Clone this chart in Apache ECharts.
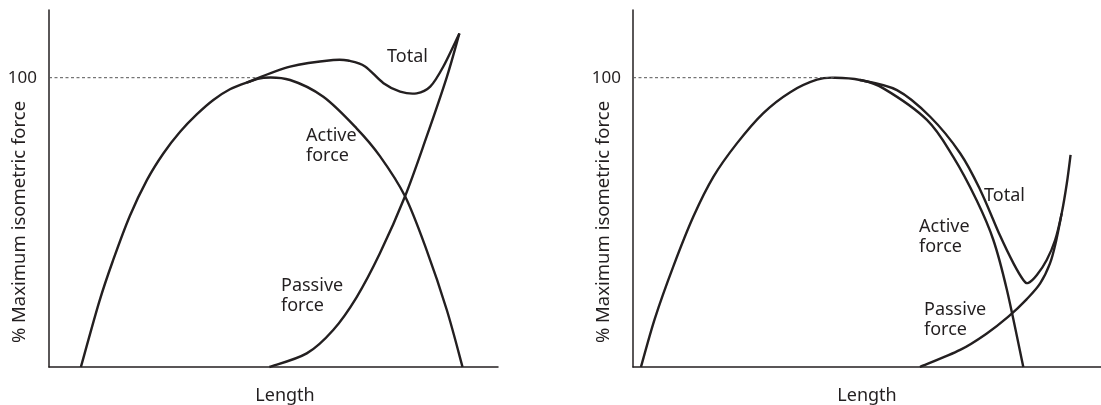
<!DOCTYPE html>
<html>
<head>
<meta charset="utf-8">
<script src="https://cdn.jsdelivr.net/npm/echarts@6/dist/echarts.min.js"></script>
<style>
  html, body { margin: 0; padding: 0; background: #fff; }
  #chart { width: 1101px; height: 405px; }
</style>
</head>
<body>
<div id="chart"></div>
<script>
// values: x = length (0-100 across each axis), y = % max isometric force
var leftActive = [[7.1,0],[11.2,22.6],[14.3,37.0],[18.0,52.2],[21.8,64.6],[25.5,73.9],[29.2,81.3],[32.9,87.3],[36.6,92.3],
  [40.3,96.0],[44.0,98.3],[47.8,100],[53.7,99.2],[61.1,93.4],[68.5,82.5],[73.7,72.9],[79.3,59.0],[84.1,40.4],[88.6,19.7],[92.1,0]];
var leftPassive = [[49.1,0],[57.4,4.7],[63.3,12.8],[68.5,24.1],[73.7,39.3],[79.3,59.0],[84.1,79.6],[88.6,100.2],[91.4,115.3]];
var leftTotal = [[44.0,98.3],[53.7,103.8],[63.3,106.1],[67.0,105.8],[70.4,103.9],[74.5,98.1],[78.2,95.2],[81.9,94.6],
  [84.9,96.9],[87.8,103.8],[91.4,115.3]];

var rightActive = [[1.7,0],[4.7,16.9],[8.6,34.7],[12.9,52.0],[17.2,65.8],[22.2,77.3],[27.8,87.7],[33.6,95.0],[39.3,99.3],
  [43.2,100],[48.5,99.2],[53.5,96.3],[62.8,85.4],[68.4,72.7],[73.4,57.7],[77.0,43.9],[79.9,26.6],[83.4,0]];
var rightPassive = [[61.3,0],[69.9,5.9],[75.6,11.6],[80.2,17.4],[84.1,23.4],[87.0,28.9],[89.1,35.8],[90.4,43.5],[91.6,53.1]];
var rightTotal = [[48.5,99.2],[56.4,95.7],[63.5,86.5],[69.9,73.9],[74.2,61.2],[78.4,45.5],[81.3,35.8],[83.4,30.1],
  [84.5,29.1],[86.3,31.8],[88.4,37.0],[90.2,43.9],[91.6,53.1],[92.7,63.5],[93.5,73.3]];

var yTicks = [100];
var yMax = 123.4;
var xName = 'Length';
var yName = '% Maximum isometric force';

var ink = '#231f20';
var font = 'Noto Sans';
var chart = echarts.init(document.getElementById('chart'));

function peakOf(pts) {
  var best = pts[0];
  pts.forEach(function (p) { if (p[1] > best[1]) best = p; });
  return best;
}

// catmull-rom through the pixel points -> cubic beziers
function splinePath(pts) {
  var d = 'M' + pts[0][0] + ' ' + pts[0][1];
  for (var i = 0; i < pts.length - 1; i++) {
    var p0 = pts[i - 1] || pts[i], p1 = pts[i], p2 = pts[i + 1], p3 = pts[i + 2] || p2;
    d += ' C' + (p1[0] + (p2[0] - p0[0]) / 6) + ' ' + (p1[1] + (p2[1] - p0[1]) / 6) +
      ' ' + (p2[0] - (p3[0] - p1[0]) / 6) + ' ' + (p2[1] - (p3[1] - p1[1]) / 6) +
      ' ' + p2[0] + ' ' + p2[1];
  }
  return d;
}

function curve(data, idx, withRef) {
  return {
    type: 'custom', xAxisIndex: idx, yAxisIndex: idx, data: data, silent: true,
    encode: { x: 0, y: 1 },
    renderItem: function (params, api) {
      if (params.dataIndex !== 0) return;
      var kids = [{
        type: 'path',
        shape: { pathData: splinePath(data.map(function (p) { return api.coord(p); })) },
        style: { fill: 'none', stroke: ink, lineWidth: 2.4 }
      }];
      if (withRef) {
        // dotted reference at 100 % out to the peak of the active curve
        var a = api.coord([0, yTicks[0]]), b = api.coord([peakOf(data)[0], yTicks[0]]);
        kids.push({
          type: 'line', shape: { x1: a[0], y1: a[1], x2: b[0], y2: b[1] },
          style: { stroke: '#555', lineWidth: 1, lineDash: [3, 2.5] }
        });
      }
      return { type: 'group', children: kids };
    }
  };
}

function xAx(idx, pad) {
  return {
    gridIndex: idx, type: 'value', min: 0, max: 100,
    name: xName, nameLocation: 'middle', nameGap: 20,
    nameTextStyle: { fontSize: 18, fontFamily: font, color: ink, padding: [0, 0, 0, pad] },
    axisLine: { show: true, lineStyle: { color: ink, width: 1.5 } },
    axisTick: { show: false }, axisLabel: { show: false }, splitLine: { show: false }
  };
}

function yAx(idx) {
  return {
    gridIndex: idx, type: 'value', min: 0, max: yMax,
    axisLine: { show: true, lineStyle: { color: ink, width: 1.5 } },
    axisTick: { show: false }, splitLine: { show: false },
    axisLabel: { customValues: yTicks, margin: 12, fontSize: 17, fontFamily: font, color: ink }
  };
}

function label(x, y, text) {
  return { type: 'text', x: x, y: y, silent: true,
    style: { text: text, fontSize: 18, fontFamily: font, fill: ink, lineHeight: 20, align: 'left', verticalAlign: 'top' } };
}

function yTitle(x) {
  return { type: 'text', x: x, y: 222, rotation: Math.PI / 2, silent: true,
    style: { text: yName, fontSize: 18.5, fontFamily: font, fill: ink, align: 'center', verticalAlign: 'middle' } };
}

chart.setOption({
  animation: false,
  grid: [
    { left: 49, top: 10, width: 449, height: 357, outerBoundsMode: 'none' },
    { left: 633, top: 10, width: 468, height: 357, outerBoundsMode: 'none' }
  ],
  xAxis: [xAx(0, 23), xAx(1, 0)],
  yAxis: [yAx(0), yAx(1)],
  series: [
    curve(leftActive, 0, true), curve(leftPassive, 0), curve(leftTotal, 0),
    curve(rightActive, 1, true), curve(rightPassive, 1), curve(rightTotal, 1)
  ],
  graphic: [
    yTitle(20), yTitle(604),
    label(387, 47, 'Total'),
    label(306, 126, 'Active\nforce'),
    label(281, 276, 'Passive\nforce'),
    label(984, 186, 'Total'),
    label(919, 217, 'Active\nforce'),
    label(924, 300, 'Passive\nforce')
  ]
});
</script>
</body>
</html>
